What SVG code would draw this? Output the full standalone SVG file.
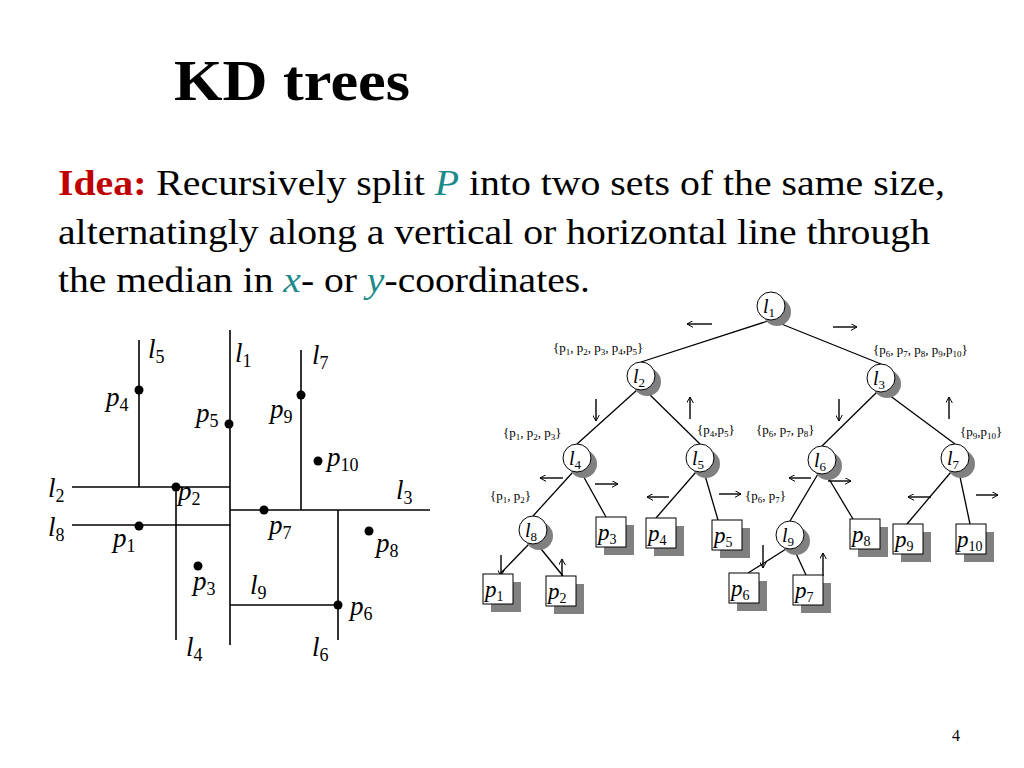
<svg xmlns="http://www.w3.org/2000/svg" width="1024" height="768" viewBox="0 0 1024 768">
<style>
text{font-family:"Liberation Serif",serif;fill:#000}
.ln{stroke:#000;stroke-width:1.6;fill:none}
.e{stroke:#000;stroke-width:1.3}
.c{fill:#fff;stroke:#000;stroke-width:1}
.sh{fill:#808080}
.lb{font-size:27px;font-style:italic}
.tl{font-size:23px;font-style:italic}
.st{font-size:13px}
.ar{stroke:#000;stroke-width:1.4;fill:none}
</style>
<defs>
<marker id="ah" viewBox="0 0 10 10" refX="9" refY="5" markerWidth="7" markerHeight="7" orient="auto" markerUnits="userSpaceOnUse"><path d="M0,0 L9,5 L0,10" fill="none" stroke="#000" stroke-width="1.4"/></marker>
<g id="circ"><circle class="sh" cx="6" cy="6" r="14"/><circle class="c" r="14"/></g>
<g id="box"><rect class="sh" x="8" y="8" width="30" height="30"/><rect class="c" width="30" height="30"/></g>
</defs>
<rect width="1024" height="768" fill="#fff"/>
<text x="174" y="100" font-size="56" font-weight="bold" textLength="236" lengthAdjust="spacingAndGlyphs">KD trees</text>
<text x="58" y="195" font-size="35" textLength="887" lengthAdjust="spacingAndGlyphs"><tspan fill="#c00000" font-weight="bold">Idea:</tspan> Recursively split <tspan fill="#1a8a8a" font-style="italic">P</tspan> into two sets of the same size,</text>
<text x="58" y="244" font-size="35" textLength="872" lengthAdjust="spacingAndGlyphs">alternatingly along a vertical or horizontal line through</text>
<text x="58" y="292" font-size="35" textLength="532" lengthAdjust="spacingAndGlyphs">the median in <tspan fill="#1a8a8a" font-style="italic">x</tspan>- or <tspan fill="#1a8a8a" font-style="italic">y</tspan>-coordinates.</text>

<g id="plane">
<g class="ln">
<line x1="139" y1="340" x2="139" y2="487"/>
<line x1="230" y1="330" x2="230" y2="645"/>
<line x1="301" y1="350" x2="301" y2="510"/>
<line x1="72" y1="487" x2="230" y2="487"/>
<line x1="230" y1="510" x2="430" y2="510"/>
<line x1="72" y1="525" x2="230" y2="525"/>
<line x1="176" y1="487" x2="176" y2="640"/>
<line x1="230" y1="605" x2="338" y2="605"/>
<line x1="338" y1="510" x2="338" y2="640"/>
</g>
<g fill="#000">
<circle cx="139" cy="390" r="4.5"/><circle cx="229" cy="424" r="4.5"/><circle cx="301" cy="395" r="4.5"/>
<circle cx="318" cy="461" r="4.5"/><circle cx="176" cy="487" r="4.5"/><circle cx="264" cy="510" r="4.5"/>
<circle cx="139" cy="526" r="4.5"/><circle cx="369" cy="531" r="4.5"/><circle cx="198" cy="566" r="4.5"/>
<circle cx="338" cy="605" r="4.5"/>
</g>
<g class="lb">
<text x="148" y="358">l<tspan font-size="18" font-style="normal" dy="5">5</tspan></text>
<text x="235" y="362">l<tspan font-size="18" font-style="normal" dy="5">1</tspan></text>
<text x="312" y="364">l<tspan font-size="18" font-style="normal" dy="5">7</tspan></text>
<text x="48" y="497">l<tspan font-size="18" font-style="normal" dy="5">2</tspan></text>
<text x="396" y="499">l<tspan font-size="18" font-style="normal" dy="5">3</tspan></text>
<text x="48" y="536">l<tspan font-size="18" font-style="normal" dy="5">8</tspan></text>
<text x="250" y="594">l<tspan font-size="18" font-style="normal" dy="5">9</tspan></text>
<text x="186" y="656">l<tspan font-size="18" font-style="normal" dy="5">4</tspan></text>
<text x="312" y="656">l<tspan font-size="18" font-style="normal" dy="5">6</tspan></text>
<text x="106" y="406">p<tspan font-size="18" font-style="normal" dy="5">4</tspan></text>
<text x="196" y="422">p<tspan font-size="18" font-style="normal" dy="5">5</tspan></text>
<text x="270" y="418">p<tspan font-size="18" font-style="normal" dy="5">9</tspan></text>
<text x="327" y="466">p<tspan font-size="18" font-style="normal" dy="5">10</tspan></text>
<text x="178" y="500">p<tspan font-size="18" font-style="normal" dy="5">2</tspan></text>
<text x="269" y="534">p<tspan font-size="18" font-style="normal" dy="5">7</tspan></text>
<text x="113" y="547">p<tspan font-size="18" font-style="normal" dy="5">1</tspan></text>
<text x="376" y="552">p<tspan font-size="18" font-style="normal" dy="5">8</tspan></text>
<text x="193" y="590">p<tspan font-size="18" font-style="normal" dy="5">3</tspan></text>
<text x="350" y="615">p<tspan font-size="18" font-style="normal" dy="5">6</tspan></text>
</g>
</g>

<g id="connectors" class="e">
<line x1="768" y1="321" x2="641" y2="362"/>
<line x1="774" y1="321" x2="881" y2="364"/>
<line x1="637" y1="390" x2="577" y2="444"/>
<line x1="645" y1="390" x2="700" y2="444"/>
<line x1="877" y1="392" x2="822" y2="446"/>
<line x1="885" y1="392" x2="955" y2="444"/>
<line x1="573" y1="472" x2="533" y2="516"/>
<line x1="581" y1="472" x2="606" y2="517"/>
<line x1="696" y1="472" x2="656" y2="518"/>
<line x1="704" y1="472" x2="718" y2="520"/>
<line x1="818" y1="474" x2="790" y2="521"/>
<line x1="826" y1="474" x2="853" y2="519"/>
<line x1="951" y1="472" x2="907" y2="524"/>
<line x1="959" y1="472" x2="970" y2="524"/>
<line x1="529" y1="544" x2="500" y2="574"/>
<line x1="537" y1="544" x2="563" y2="576"/>
<line x1="786" y1="549" x2="748" y2="573"/>
<line x1="794" y1="549" x2="806" y2="575"/>
</g>

<g id="arrows" class="ar" marker-end="url(#ah)">
<line x1="712" y1="324" x2="687" y2="324"/><line x1="833" y1="327" x2="857" y2="327"/>
<line x1="596" y1="399" x2="596" y2="421"/><line x1="690" y1="419" x2="690" y2="397"/>
<line x1="839" y1="399" x2="839" y2="421"/><line x1="949" y1="419" x2="949" y2="397"/>
<line x1="563" y1="478" x2="540" y2="478"/><line x1="595" y1="484" x2="618" y2="484"/>
<line x1="669" y1="497" x2="647" y2="497"/><line x1="719" y1="494" x2="741" y2="494"/>
<line x1="811" y1="478" x2="789" y2="478"/><line x1="828" y1="481" x2="851" y2="481"/>
<line x1="931" y1="497" x2="908" y2="497"/><line x1="976" y1="495" x2="998" y2="495"/>
<line x1="501" y1="555" x2="501" y2="576"/><line x1="562" y1="580" x2="562" y2="559"/>
<line x1="763" y1="545" x2="763" y2="568"/><line x1="823" y1="576" x2="823" y2="553"/>
</g>
<g id="sets" class="st">
<text x="553" y="352">{p<tspan font-size="9" dy="3">1</tspan><tspan dy="-3">, p</tspan><tspan font-size="9" dy="3">2</tspan><tspan dy="-3">, p</tspan><tspan font-size="9" dy="3">3</tspan><tspan dy="-3">, p</tspan><tspan font-size="9" dy="3">4</tspan><tspan dy="-3">,p</tspan><tspan font-size="9" dy="3">5</tspan><tspan dy="-3">}</tspan></text>
<text x="873" y="354">{p<tspan font-size="9" dy="3">6</tspan><tspan dy="-3">, p</tspan><tspan font-size="9" dy="3">7</tspan><tspan dy="-3">, p</tspan><tspan font-size="9" dy="3">8</tspan><tspan dy="-3">, p</tspan><tspan font-size="9" dy="3">9</tspan><tspan dy="-3">,p</tspan><tspan font-size="9" dy="3">10</tspan><tspan dy="-3">}</tspan></text>
<text x="503" y="437">{p<tspan font-size="9" dy="3">1</tspan><tspan dy="-3">, p</tspan><tspan font-size="9" dy="3">2</tspan><tspan dy="-3">, p</tspan><tspan font-size="9" dy="3">3</tspan><tspan dy="-3">}</tspan></text>
<text x="697" y="434">{p<tspan font-size="9" dy="3">4</tspan><tspan dy="-3">,p</tspan><tspan font-size="9" dy="3">5</tspan><tspan dy="-3">}</tspan></text>
<text x="756" y="434">{p<tspan font-size="9" dy="3">6</tspan><tspan dy="-3">, p</tspan><tspan font-size="9" dy="3">7</tspan><tspan dy="-3">, p</tspan><tspan font-size="9" dy="3">8</tspan><tspan dy="-3">}</tspan></text>
<text x="960" y="436">{p<tspan font-size="9" dy="3">9</tspan><tspan dy="-3">,p</tspan><tspan font-size="9" dy="3">10</tspan><tspan dy="-3">}</tspan></text>
<text x="490" y="500">{p<tspan font-size="9" dy="3">1</tspan><tspan dy="-3">, p</tspan><tspan font-size="9" dy="3">2</tspan><tspan dy="-3">}</tspan></text>
<text x="745" y="500">{p<tspan font-size="9" dy="3">6</tspan><tspan dy="-3">, p</tspan><tspan font-size="9" dy="3">7</tspan><tspan dy="-3">}</tspan></text>
</g>

<g class="tl">
<g id="l1"><use href="#circ" x="771" y="306"/><text x="763" y="313" font-size="20">l<tspan font-size="13" font-style="normal" dy="4">1</tspan></text></g>
<g id="l2"><use href="#circ" x="641" y="376"/><text x="633" y="383" font-size="20">l<tspan font-size="13" font-style="normal" dy="4">2</tspan></text></g>
<g id="l3"><use href="#circ" x="881" y="378"/><text x="873" y="385" font-size="20">l<tspan font-size="13" font-style="normal" dy="4">3</tspan></text></g>
<g id="l4"><use href="#circ" x="577" y="458"/><text x="569" y="465" font-size="20">l<tspan font-size="13" font-style="normal" dy="4">4</tspan></text></g>
<g id="l5"><use href="#circ" x="700" y="458"/><text x="692" y="465" font-size="20">l<tspan font-size="13" font-style="normal" dy="4">5</tspan></text></g>
<g id="l6"><use href="#circ" x="822" y="460"/><text x="814" y="467" font-size="20">l<tspan font-size="13" font-style="normal" dy="4">6</tspan></text></g>
<g id="l7"><use href="#circ" x="955" y="458"/><text x="947" y="465" font-size="20">l<tspan font-size="13" font-style="normal" dy="4">7</tspan></text></g>
<g id="l8"><use href="#circ" x="533" y="530"/><text x="525" y="537" font-size="20">l<tspan font-size="13" font-style="normal" dy="4">8</tspan></text></g>
<g id="l9"><use href="#circ" x="790" y="535"/><text x="782" y="542" font-size="20">l<tspan font-size="13" font-style="normal" dy="4">9</tspan></text></g>
<g id="p3"><use href="#box" x="596" y="517"/><text x="598" y="540">p<tspan font-size="14" font-style="normal" dy="4">3</tspan></text></g>
<g id="p4"><use href="#box" x="646" y="518"/><text x="648" y="541">p<tspan font-size="14" font-style="normal" dy="4">4</tspan></text></g>
<g id="p5"><use href="#box" x="712" y="520"/><text x="714" y="543">p<tspan font-size="14" font-style="normal" dy="4">5</tspan></text></g>
<g id="p8"><use href="#box" x="850" y="519"/><text x="852" y="542">p<tspan font-size="14" font-style="normal" dy="4">8</tspan></text></g>
<g id="p9"><use href="#box" x="893" y="524"/><text x="895" y="547">p<tspan font-size="14" font-style="normal" dy="4">9</tspan></text></g>
<g id="p10"><use href="#box" x="956" y="524"/><text x="957" y="547">p<tspan font-size="14" font-style="normal" dy="4">10</tspan></text></g>
<g id="p1"><use href="#box" x="483" y="574"/><text x="485" y="597">p<tspan font-size="14" font-style="normal" dy="4">1</tspan></text></g>
<g id="p2"><use href="#box" x="546" y="576"/><text x="548" y="599">p<tspan font-size="14" font-style="normal" dy="4">2</tspan></text></g>
<g id="p6"><use href="#box" x="729" y="573"/><text x="731" y="596">p<tspan font-size="14" font-style="normal" dy="4">6</tspan></text></g>
<g id="p7"><use href="#box" x="793" y="575"/><text x="795" y="598">p<tspan font-size="14" font-style="normal" dy="4">7</tspan></text></g>
</g>
<text x="952" y="741" font-size="16">4</text>
</svg>
